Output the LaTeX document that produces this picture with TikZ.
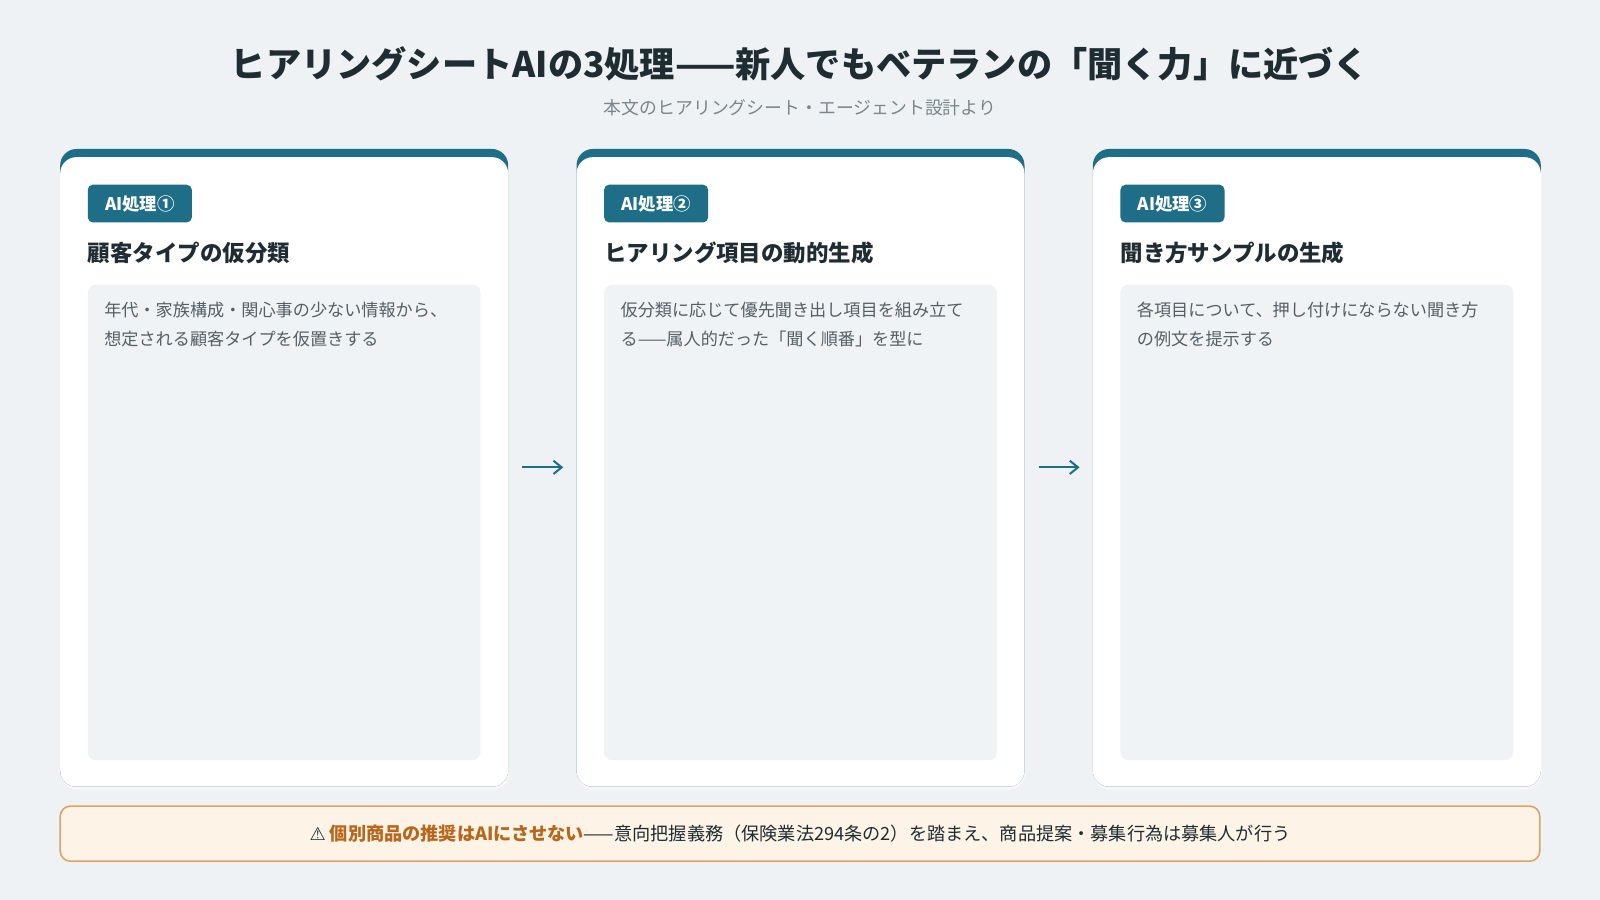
\documentclass[tikz,border=0pt]{standalone}
\usepackage{fontspec}
\setmainfont{Noto Sans CJK JP}
\newfontfamily\symf{DejaVu Sans}
\usetikzlibrary{arrows.meta}
\definecolor{bg}{HTML}{EEF2F4}
\definecolor{teal}{HTML}{1F6E87}
\definecolor{dark}{HTML}{1F2D33}
\definecolor{gr}{HTML}{7A868C}
\definecolor{body}{HTML}{555F66}
\definecolor{inner}{HTML}{EFF3F5}
\definecolor{warnbg}{HTML}{FDF3E7}
\definecolor{warnbd}{HTML}{E3A05E}
\definecolor{warn}{HTML}{B8661A}
\tikzset{
 cardtop/.style={fill=teal,rounded corners=16pt},
 card/.style={fill=white,rounded corners=16pt},
 badge/.style={fill=teal,rounded corners=5pt,text=white,font=\fontsize{17}{20}\selectfont\bfseries,minimum width=102pt,minimum height=37pt,inner sep=0pt},
 head/.style={anchor=west,text=dark,font=\fontsize{22}{26}\selectfont\bfseries,inner sep=0pt},
 inner/.style={fill=inner,rounded corners=8pt},
 bodyt/.style={anchor=north west,text=body,font=\fontsize{16.8}{28}\selectfont,align=left,inner sep=0pt},
 arr/.style={draw=teal,line width=2pt,-{Straight Barb[length=8pt,width=13pt]}}
}
\begin{document}
\begin{tikzpicture}[x=1pt,y=-1pt]
\fill[bg] (0,0) rectangle (1568,882);
\useasboundingbox (0,0) rectangle (1568,882);
\node[text=dark,font=\fontsize{34.5}{40}\selectfont\bfseries] (title) at (784,63) {ヒアリングシートAIの3処理——新人でもベテランの「聞く力」に近づく};
\node[text=gr,font=\fontsize{17.5}{20}\selectfont] (sub) at (784,106) {本文のヒアリングシート・エージェント設計より};
\foreach \i/\x/\h/\t in {1/59/顧客タイプの仮分類/{年代・家族構成・関心事の少ない情報から、\\想定される顧客タイプを仮置きする},
 2/565/ヒアリング項目の動的生成/{仮分類に応じて優先聞き出し項目を組み立て\\る——属人的だった「聞く順番」を型に},
 3/1071/聞き方サンプルの生成/{各項目について、押し付けにならない聞き方\\の例文を提示する}}{
 \fill[black!3,rounded corners=16pt] (\x+1,148) rectangle (\x+440,774);
 \path[cardtop] (\x,146) rectangle (\x+439,771);
 \path[card] (\x,154) rectangle (\x+439,771);
 \node[badge] (b\i) at (\x+78,199.5) {AI処理\ifcase\i\or ①\or ②\or ③\fi};
 \node[head] (h\i) at (\x+27,248) {\h};
 \path[inner] (\x+27,279) rectangle (\x+412,745);
 \node[bodyt] (t\i) at (\x+43,296) {\t};
}
\coordinate (a1s) at (512,458); \coordinate (a1e) at (552,458);
\coordinate (a2s) at (1018,458); \coordinate (a2e) at (1058,458);
\draw[arr] (a1s) -- (a1e);
\draw[arr] (a2s) -- (a2e);
\draw[fill=warnbg,draw=warnbd,line width=1.5pt,rounded corners=10pt] (59,790) rectangle (1509,844);
\node[text=dark,font=\fontsize{17.8}{20}\selectfont] (warn) at (784,817) {{\symf ⚠} \textcolor{warn}{\bfseries 個別商品の推奨はAIにさせない}——意向把握義務（保険業法294条の2）を踏まえ、商品提案・募集行為は募集人が行う};
\end{tikzpicture}
\end{document}
